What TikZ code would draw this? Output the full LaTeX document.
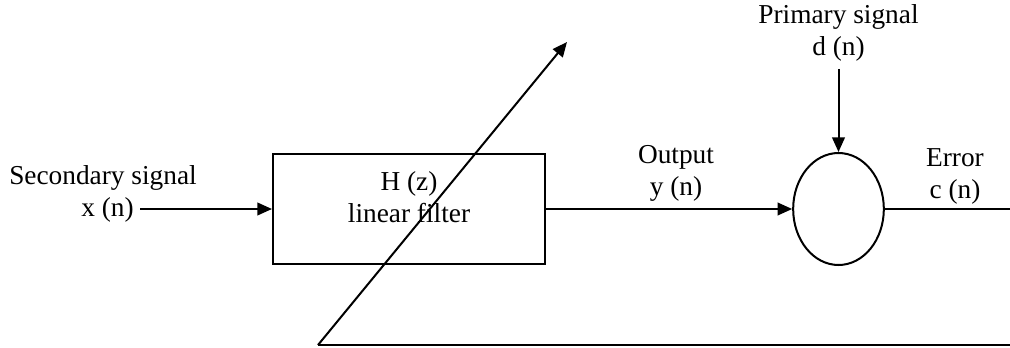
\documentclass[tikz,border=0pt]{standalone}
\usepackage{fontspec}
\setmainfont{Liberation Serif}
\usetikzlibrary{shapes.geometric,arrows.meta}
\begin{document}
\begin{tikzpicture}[x=0.75pt,y=0.75pt,
  every node/.style={font=\fontsize{20.5}{24}\selectfont, inner sep=0pt},
  conn/.style={line width=1.5pt},
  arr/.style={conn,-{Triangle[length=11pt,width=9.5pt]}},
  lbl/.style={align=center}]
\useasboundingbox (0,0) rectangle (1010,347);
\node[draw, line width=1.5pt, minimum width=204pt, minimum height=83pt] (filt) at (409,138) {};
\node[lbl] (ftext) at (409,150) {H (z)\\linear filter};
\node[draw, ellipse, line width=1.5pt, minimum width=68pt, minimum height=84pt] (sum) at (838.5,138) {};
\node[lbl] (sec) at (103,169) {Secondary signal};
\node[lbl, anchor=east] (xin) at (134,137) {x (n)};
\node[lbl] (outl) at (676,174) {Output\\y (n)};
\node[lbl] (prim) at (838.5,314) {Primary signal\\d (n)};
\node[lbl] (err) at (955,171) {Error\\c (n)};
\coordinate (errend) at (1010,138);
\coordinate (bl) at (318,2);
\coordinate (br) at (1010,2);
\coordinate (tip) at (567,305);
\coordinate (xs) at (140,138);
\coordinate (ps) at (838.5,278);
\draw[arr] (xs) -- (filt.west);
\draw[arr] (filt.east) -- (sum.west);
\draw[arr] (ps) -- (sum.north);
\draw[conn] (sum.east) -- (errend);
\draw[conn] (bl) -- (br);
\draw[arr] (bl) -- (tip);
\end{tikzpicture}
\end{document}
